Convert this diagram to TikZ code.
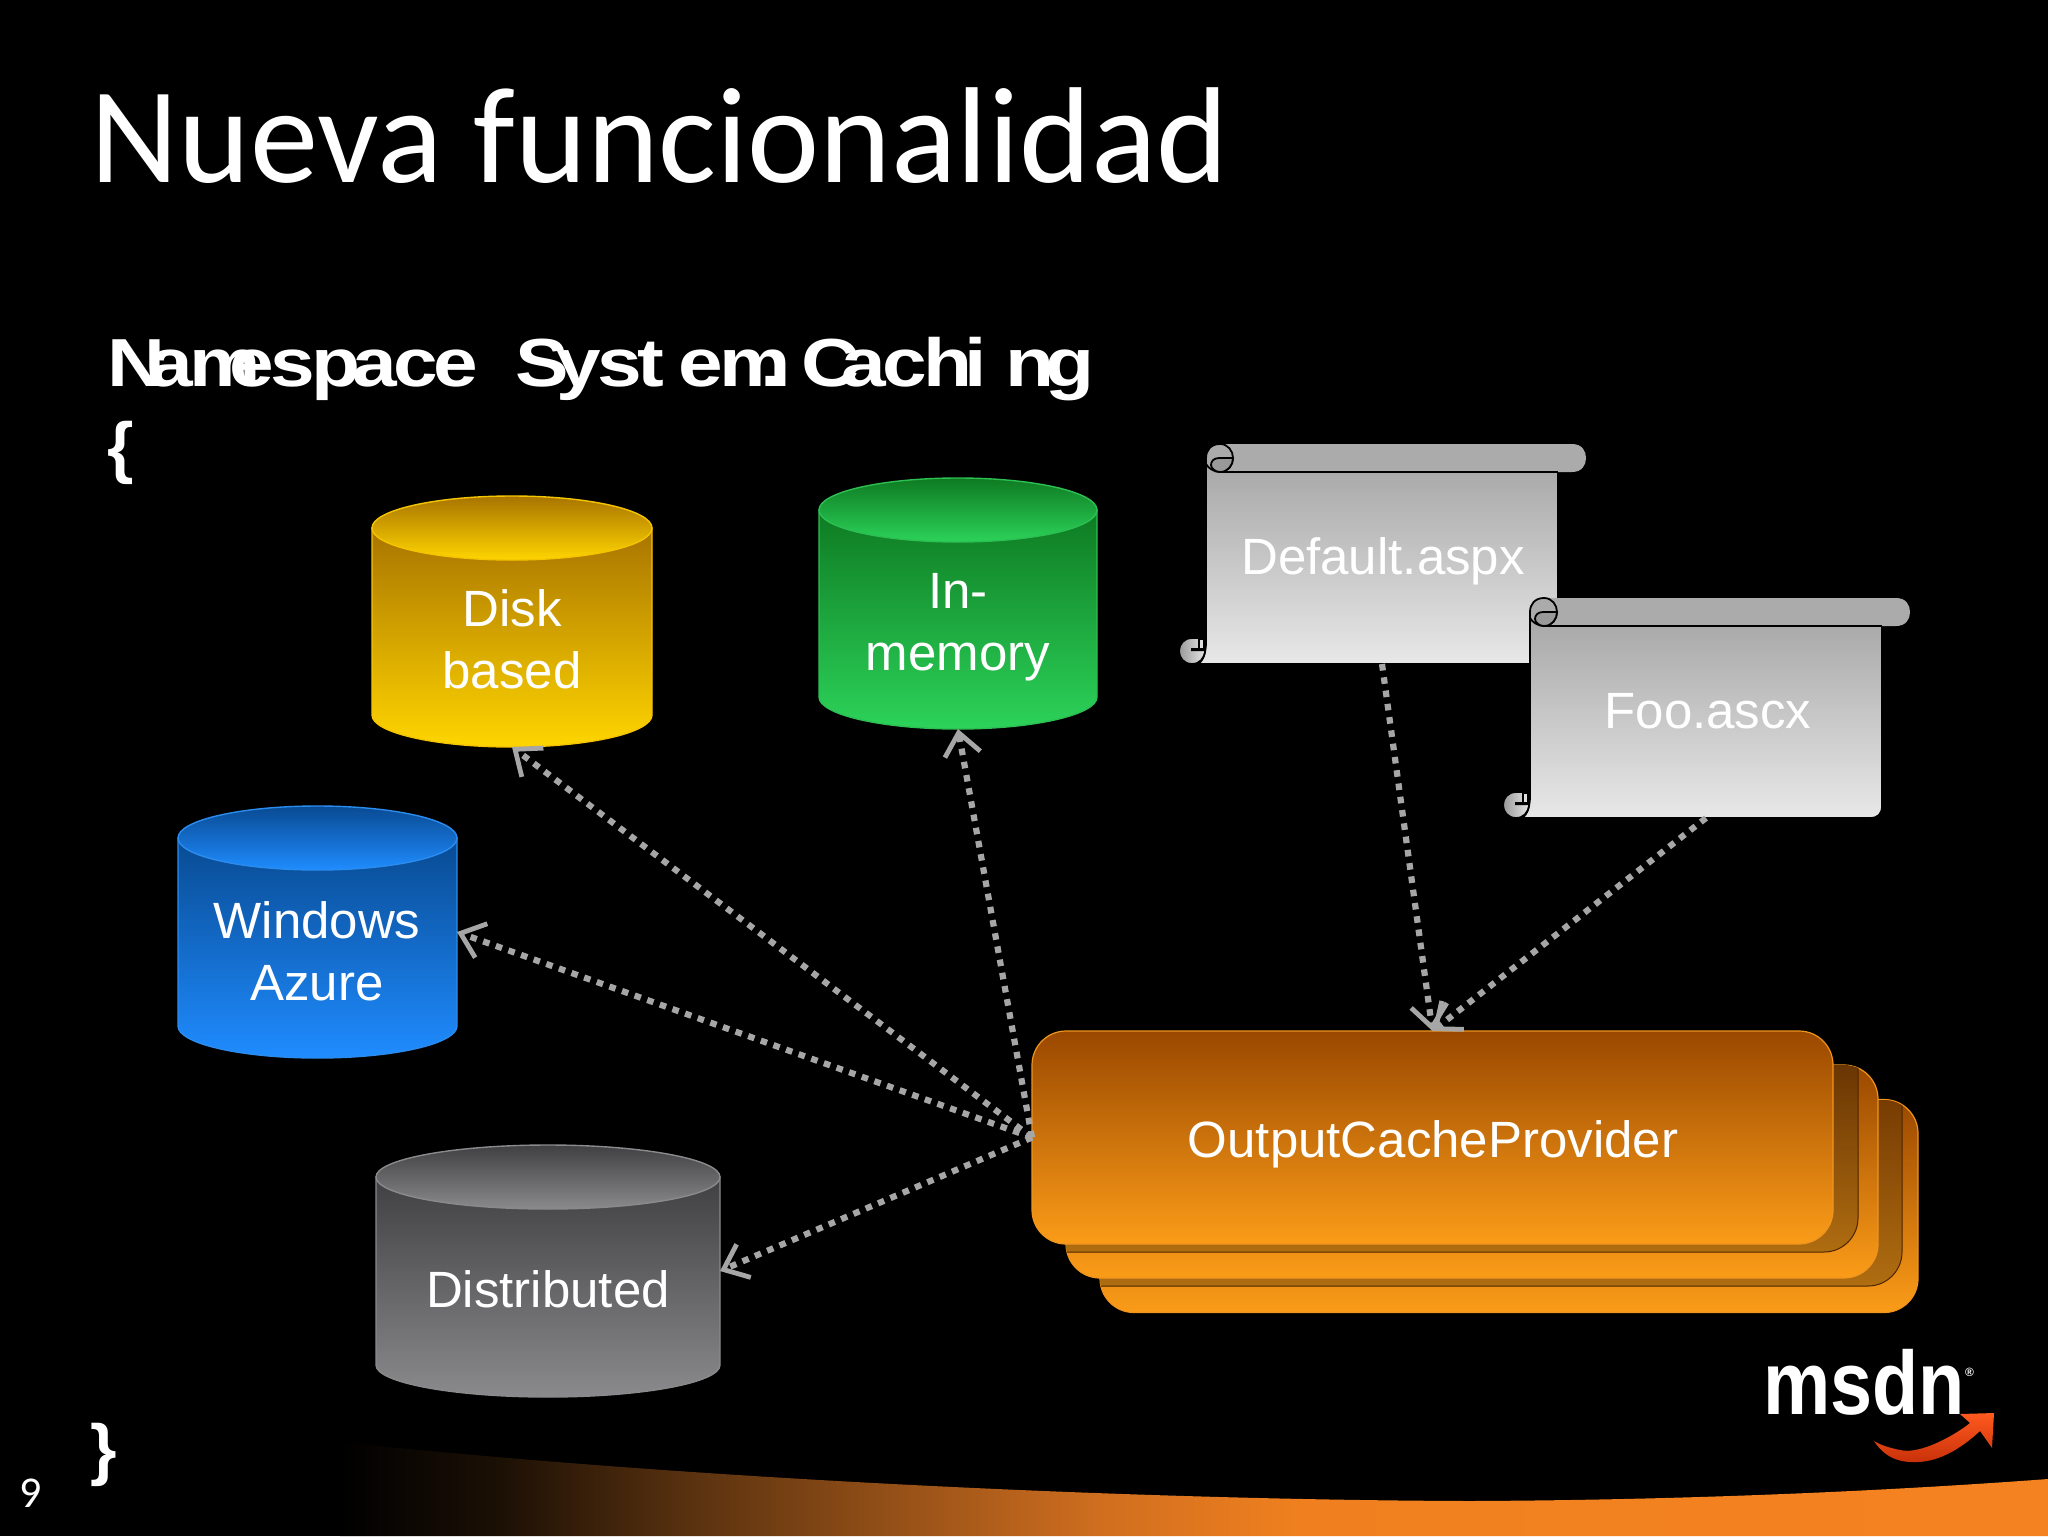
\documentclass[tikz,border=0pt]{standalone}
\usepackage{fontspec}
\usepackage{graphicx}
\usetikzlibrary{arrows.meta}
\setmainfont{Liberation Sans}
\newfontfamily\carlito{Carlito}
\def\monoseq#1{\ifx#1\relax\else\makebox[20.4pt][l]{\scalebox{1.18}[1]{#1}}\expandafter\monoseq\fi}
\definecolor{conngray}{HTML}{A6A6A6}
\definecolor{provtop}{HTML}{9A4800}
\definecolor{provbot}{HTML}{FB9C18}
\definecolor{provrim}{HTML}{F0941E}
\definecolor{diskdark}{HTML}{A87400}
\definecolor{disklight}{HTML}{FFD500}
\definecolor{diskrim}{HTML}{F5C400}
\definecolor{memdark}{HTML}{0E7A22}
\definecolor{memlight}{HTML}{2CD35A}
\definecolor{memrim}{HTML}{2CBF52}
\definecolor{azdark}{HTML}{084A92}
\definecolor{azlight}{HTML}{1F8CFF}
\definecolor{azrim}{HTML}{2A8CEF}
\definecolor{distdark}{HTML}{404042}
\definecolor{distlight}{HTML}{8A8A8C}
\definecolor{bandA}{HTML}{1C1005}
\definecolor{bandB}{HTML}{5C3310}
\definecolor{bandC}{HTML}{CF6E1F}
\definecolor{bandD}{HTML}{F0801F}
\definecolor{bandE}{HTML}{F58220}
\definecolor{swooshA}{HTML}{FF5A1E}
\definecolor{swooshB}{HTML}{C8300A}
\pgfdeclarehorizontalshading{bandshade}{100bp}{color(0bp)=(black);color(25bp)=(black);color(29.7bp)=(bandA);color(35.5bp)=(bandB);color(47.2bp)=(bandC);color(53.1bp)=(bandD);color(75bp)=(bandE);color(100bp)=(bandE)}
\tikzset{
  anchorbox/.style={inner sep=0pt,outer sep=0pt},
  lbl/.style={text=white,font=\fontsize{25.5}{30.7}\selectfont,align=center,anchor=base,inner sep=0pt},
  code/.style={text=white,font=\bfseries\fontsize{34}{34}\selectfont,anchor=base west,inner sep=0pt},
  conn/.style={draw=conngray,line width=3.1pt,dash pattern=on 3.3pt off 3.4pt,-{Straight Barb[length=11pt,width=18pt,line width=2.4pt]}},
  stackbox/.style={draw=provrim,line width=.6pt,rounded corners=17pt,top color=provtop,bottom color=provbot,inner sep=0pt,outer sep=0pt,minimum width=401pt,minimum height=106.5pt},
  scrollline/.style={draw=black,line width=.9pt},
}
% #1 name, #2 left, #3 top, #4 right, #5 bottom, #6 dark, #7 light, #8 rim
\newcommand\cyl[8]{%
  \pgfmathsetmacro\cx{(#2+#4)/2}%
  \pgfmathsetmacro\rx{(#4-#2)/2}%
  \pgfmathsetmacro\tc{#3+32}%
  \pgfmathsetmacro\bc{#5-32}%
  \pgfmathsetmacro\my{(#3+#5)/2}%
  \pgfmathsetmacro\kxl{\cx-\rx*.55}%
  \pgfmathsetmacro\kxr{\cx+\rx*.55}%
  \pgfmathsetmacro\kyb{\bc+32*.55}%
  \shade[top color=#6,bottom color=#7,draw=#8,line width=.7pt]
    (#2,\tc) -- (#2,\bc) .. controls (#2,\kyb) and (\kxl,#5) .. (\cx,#5)
    .. controls (\kxr,#5) and (#4,\kyb) .. (#4,\bc) -- (#4,\tc) -- cycle;
  \shade[top color=#6,bottom color=#7,draw=#8,line width=.7pt]
    (\cx,\tc) ellipse [x radius=\rx,y radius=32];
  \node[anchorbox,minimum width=\rx pt,minimum height={(#5-#3)*0.5pt}] (#1) at (\cx,\my) {};
}
% #1 name, #2 dx, #3 dy
\newcommand\scrollshape[3]{%
  \begin{scope}[shift={(#2,#3)}]
    \shade[top color=black!35,bottom color=black!9,scrollline]
      (0,14) -- (0,198) .. controls (0,210) and (-4,220) .. (-10,220) -- (340,220)
      .. controls (348,220) and (352,216) .. (352,208) -- (352,14) -- cycle;
    \node[anchorbox,minimum width=176pt,minimum height=96pt] (#1) at (176,124) {};
    \shade[left color=black!40,right color=black!10,scrollline]
      (-14,220) .. controls (-22,220) and (-27,214) .. (-27,207) .. controls (-27,200) and (-22,194) .. (-14,194)
      -- (-1,194) -- (-1,208) .. controls (-2,214) and (-6,220) .. (-14,220) -- cycle;
    \fill[black] (-8,194) -- (-1,194) -- (-1,207) -- (-15,207) -- (-15,204) -- (-8,204) -- cycle;
    \fill[black!12] (-6,196) -- (-3,196) -- (-3,204) -- (-6,204) -- cycle;
    \fill[black!33] (14,0) -- (366,0) .. controls (376,0) and (380,7) .. (380,14)
      .. controls (380,21) and (376,28) .. (366,28) -- (14,28) -- cycle;
    \draw[scrollline] (14,28) -- (352,28);
    \draw[scrollline,fill=black!33] (14,0) .. controls (5,0) and (0,6) .. (0,14) -- (0,20)
      .. controls (2,24) and (8,28) .. (14,28) .. controls (22,28) and (27,21) .. (27,14)
      .. controls (27,7) and (22,0) .. (14,0) -- cycle;
    \draw[scrollline,fill=black!40] (27,14) -- (13,14) .. controls (7,14) and (5,18) .. (5,21)
      .. controls (5,25) and (10,28) .. (14,28) .. controls (22,28) and (27,21) .. (27,14) -- cycle;
  \end{scope}
}
\begin{document}
\begin{tikzpicture}[x=0.5pt,y=-0.5pt]
  \useasboundingbox (0,0) rectangle (2048,1536);
  \fill[black] (0,0) rectangle (2048,1536);

  % bottom band
  \path[shading=bandshade] (340,1442) .. controls (700,1480) and (1150,1500) .. (1470,1501)
    .. controls (1700,1500) and (1900,1490) .. (2048,1479) -- (2048,1536) -- (340,1536) -- cycle;

  % texts of the slide
  \node[text=white,font=\carlito\fontsize{68.3}{68}\selectfont,anchor=base west,inner sep=0pt] (title) at (90,182) {Nueva funcionalidad};
  \node[code] (ns) at (107,386) {\monoseq Namespace~System.Caching\relax};
  \node[code] (openb) at (107,470) {\{};
  \node[code] (closeb) at (90,1472) {\}};
  \node[text=white,font=\carlito\fontsize{22}{22}\selectfont,anchor=base,inner sep=0pt] (pageno) at (31,1507) {9};

  % cylinders
  \cyl{disk}{372}{496}{652}{747}{diskdark}{disklight}{diskrim}
  \cyl{mem}{819}{478}{1097}{729}{memdark}{memlight}{memrim}
  \cyl{azure}{178}{806}{457}{1058}{azdark}{azlight}{azrim}
  \cyl{dist}{376}{1145}{720}{1397}{distdark}{distlight}{distlight}

  \node[lbl] (disklbl) at (512,688) {Disk\\based};
  \node[lbl] (memlbl) at (958,670) {In-\\memory};
  \node[lbl] (azurelbl) at (317,1000) {Windows\\Azure};
  \node[lbl] (distlbl) at (548,1307) {Distributed};

  % provider stack
  \node[stackbox,minimum width=409pt] (provC) at (1509,1206) {};
  \begin{scope}
    \clip[rounded corners=17pt] (1100,1100) rectangle (1918,1312);
    \shade[rounded corners=17pt,top color=provtop!70!black,bottom color=provbot!70!black,draw=black!50!provtop,line width=.5pt] (1066,1065) rectangle (1902,1286);
  \end{scope}
  \node[stackbox,minimum width=406pt] (provB) at (1472,1171.5) {};
  \begin{scope}
    \clip[rounded corners=17pt] (1066,1065) rectangle (1878,1278);
    \shade[rounded corners=17pt,top color=provtop!60!black,bottom color=provbot!70!black,draw=black!50!provtop,line width=.5pt] (1032,1031) rectangle (1858,1252);
  \end{scope}
  \node[stackbox,minimum width=400.5pt] (provA) at (1432.5,1137.5) {};
  \node[lbl] (provlbl) at (1433,1157) {OutputCacheProvider};

  % scrolls
  \scrollshape{scrollA}{1206}{444}
  \node[lbl] (scrollAlbl) at (1383,574) {Default.aspx};
  \scrollshape{scrollB}{1530}{598}
  \node[lbl] (scrollBlbl) at (1708,728) {Foo.ascx};

  % connectors
  \draw[conn] (provA.west) -- (disk.south);
  \draw[conn] (provA.west) -- (mem.south);
  \draw[conn] (provA.west) -- (azure.east);
  \draw[conn] (provA.west) -- (dist.east);
  \draw[conn] (scrollA.south) -- (provA.north);
  \draw[conn] (scrollB.south) -- (provA.north);

  % logo
  \node[text=white,font=\bfseries\fontsize{45}{45}\selectfont,anchor=base west,inner sep=0pt] (msdn) at (1763,1414)
    {\scalebox{0.84}[1]{msdn}\raisebox{19pt}{\fontsize{6}{6}\selectfont\textregistered}};
  \shade[top color=swooshA,bottom color=swooshB]
    (1874,1441) .. controls (1885,1458) and (1900,1463) .. (1918,1462)
    .. controls (1945,1461) and (1968,1442) .. (1980,1431) -- (1992,1448) -- (1994,1413) -- (1960,1414) -- (1970,1423)
    .. controls (1955,1435) and (1920,1455) .. (1900,1450) .. controls (1890,1448) and (1880,1445) .. (1874,1441) -- cycle;
\end{tikzpicture}
\end{document}
